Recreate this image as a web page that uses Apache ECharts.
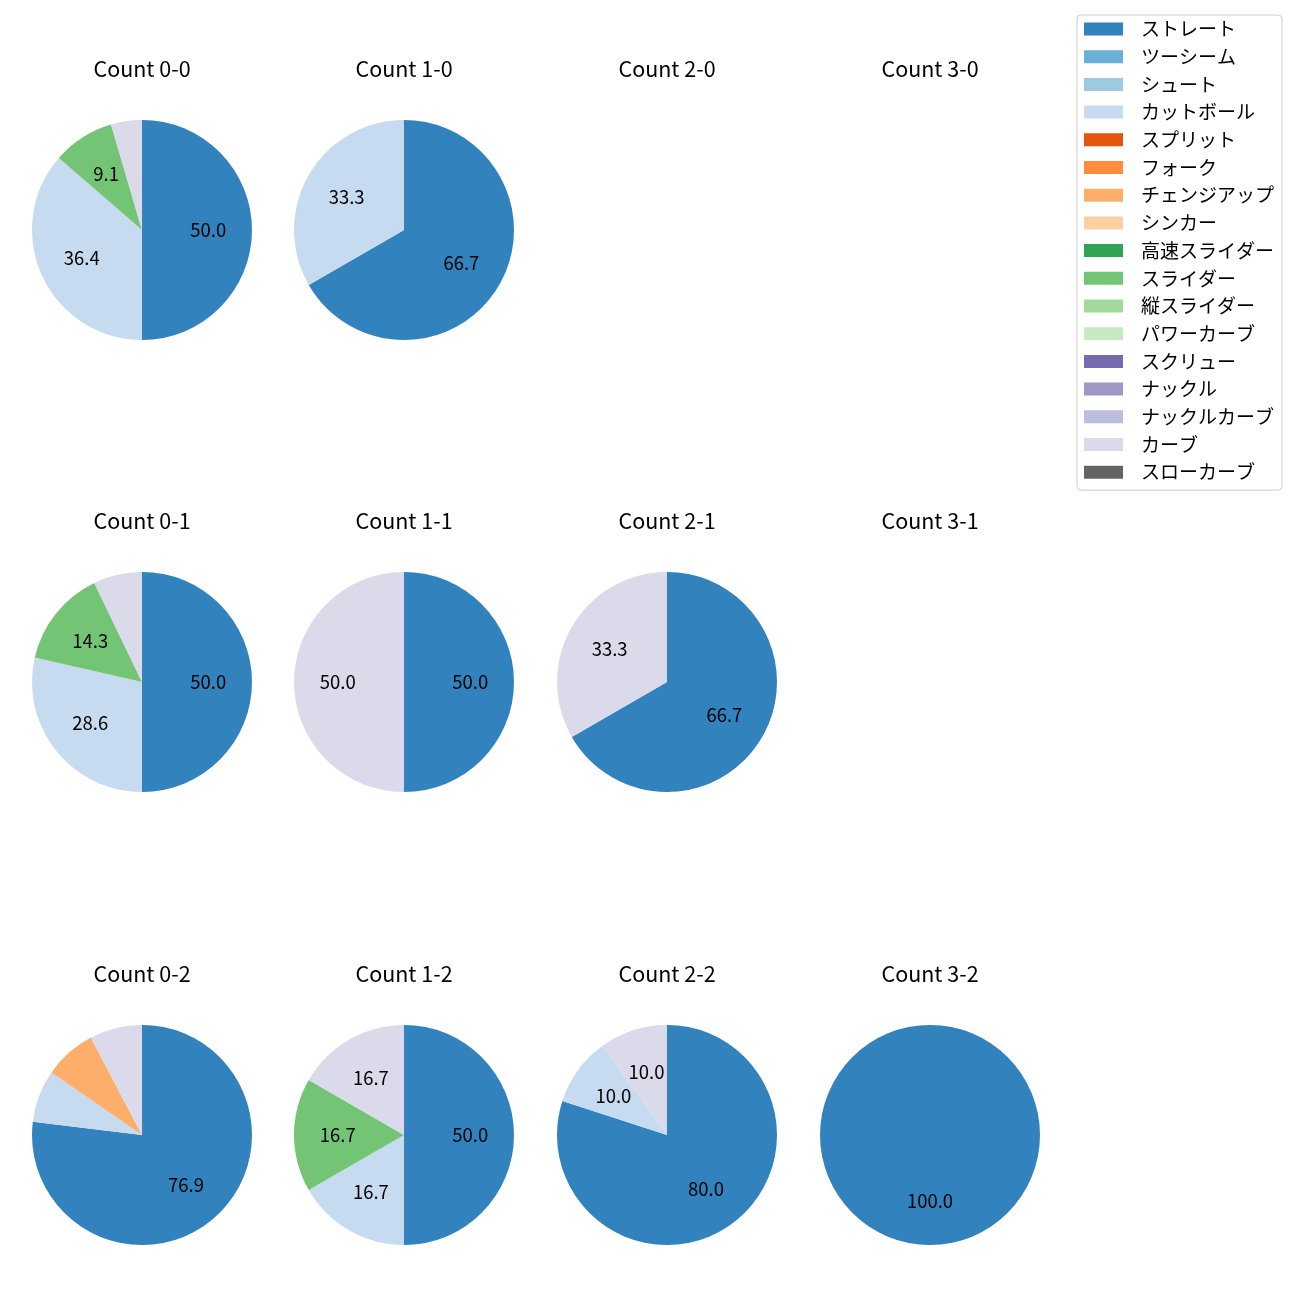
<!DOCTYPE html>
<html>
<head>
<meta charset="utf-8">
<script src="https://cdn.jsdelivr.net/npm/echarts@6/dist/echarts.min.js"></script>
<style>
  html, body { margin: 0; padding: 0; background: #fff; }
  #chart { width: 1300px; height: 1300px; }
</style>
</head>
<body>
<div id="chart"></div>
<script>
// Pitch types (legend order) and their colours
const pitchTypes = ['ストレート','ツーシーム','シュート','カットボール','スプリット','フォーク','チェンジアップ','シンカー','高速スライダー','スライダー','縦スライダー','パワーカーブ','スクリュー','ナックル','ナックルカーブ','カーブ','スローカーブ'];
const pitchColors = ['#3182bd','#6baed6','#9ecae1','#c6dbef','#e6550d','#fd8d3c','#fdae6b','#fdd0a2','#31a354','#74c476','#a1d99b','#c7e9c0','#756bb1','#9e9ac8','#bcbddc','#dadaeb','#636363'];

// Subplot titles (row by row)
const countLabels = ['0-0','1-0','2-0','3-0','0-1','1-1','2-1','3-1','0-2','1-2','2-2','3-2'];

// Pitch counts per ball-strike count, in pitchTypes order
const count00 = [11,0,0,8,0,0,0,0,0,2,0,0,0,0,0,1,0];
const count10 = [2,0,0,1,0,0,0,0,0,0,0,0,0,0,0,0,0];
const count20 = [0,0,0,0,0,0,0,0,0,0,0,0,0,0,0,0,0];
const count30 = [0,0,0,0,0,0,0,0,0,0,0,0,0,0,0,0,0];
const count01 = [7,0,0,4,0,0,0,0,0,2,0,0,0,0,0,1,0];
const count11 = [1,0,0,0,0,0,0,0,0,0,0,0,0,0,0,1,0];
const count21 = [2,0,0,0,0,0,0,0,0,0,0,0,0,0,0,1,0];
const count31 = [0,0,0,0,0,0,0,0,0,0,0,0,0,0,0,0,0];
const count02 = [10,0,0,1,0,0,1,0,0,0,0,0,0,0,0,1,0];
const count12 = [3,0,0,1,0,0,0,0,0,1,0,0,0,0,0,1,0];
const count22 = [8,0,0,1,0,0,0,0,0,0,0,0,0,0,0,1,0];
const count32 = [1,0,0,0,0,0,0,0,0,0,0,0,0,0,0,0,0];

const allCounts = [count00,count10,count20,count30,count01,count11,count21,count31,count02,count12,count22,count32];

// Layout
const colX = [142, 404, 667, 930];
const rowY = [230, 682, 1135];
const R = 110;
const FONT = '"Noto Sans CJK JP", "Noto Sans", sans-serif';

const series = [];
// hidden series carrying all legend entries
series.push({
  type: 'pie', radius: 0, center: [-500, -500], silent: true,
  label: { show: false }, labelLine: { show: false },
  data: pitchTypes.map((n, i) => ({ name: n, value: 1, itemStyle: { color: pitchColors[i] } }))
});

const titles = [];
allCounts.forEach((arr, k) => {
  const r = Math.floor(k / 4), c = k % 4;
  const cx = colX[c], cy = rowY[r];
  titles.push({
    text: 'Count ' + countLabels[k],
    left: cx, top: rowY[r] - 172, textAlign: 'center', padding: 0,
    textStyle: { fontFamily: FONT, fontSize: 21.5, lineHeight: 22, fontWeight: 'normal', color: '#000' }
  });
  const total = arr.reduce((a, b) => a + b, 0);
  if (total === 0) return;
  const items = [];
  arr.forEach((v, i) => { if (v > 0) items.push({ i, v }); });
  series.push({
    type: 'pie', center: [cx, cy], radius: [0, R], startAngle: 90, clockwise: true,
    silent: true, avoidLabelOverlap: false,
    label: { show: false }, labelLine: { show: false },
    itemStyle: { borderWidth: 0 },
    emphasis: { disabled: true },
    data: items.map(d => ({ name: pitchTypes[d.i], value: d.v, itemStyle: { color: pitchColors[d.i], borderWidth: 0 } }))
  });
  // label overlay ring: inside label sits at (r0 + r) / 2
  series.push({
    type: 'pie', center: [cx, cy], radius: [0.15 * R, R], startAngle: 90, clockwise: true,
    silent: true, avoidLabelOverlap: false,
    labelLine: { show: false },
    itemStyle: { color: 'rgba(0,0,0,0)', borderWidth: 0 },
    emphasis: { disabled: true },
    data: items.map(d => {
      const pct = d.v / total * 100;
      return {
        name: pitchTypes[d.i], value: d.v,
        itemStyle: { color: 'rgba(0,0,0,0)', borderWidth: 0 },
        label: {
          show: pct >= 8, position: 'inside',
          formatter: pct.toFixed(1),
          fontFamily: FONT, fontSize: 18.5, color: '#000'
        }
      };
    })
  });
});

const chart = echarts.init(document.getElementById('chart'));
chart.setOption({
  animation: false,
  backgroundColor: '#fff',
  title: titles,
  legend: {
    orient: 'vertical', left: 1077, top: 15,
    padding: [4, 8, 8, 7],
    itemWidth: 39, itemHeight: 13, itemGap: 7.7,
    icon: 'rect', selectedMode: false,
    borderColor: '#ccc', borderWidth: 1, borderRadius: 4, backgroundColor: '#fff',
    textStyle: { fontFamily: FONT, fontSize: 19, lineHeight: 20, color: '#000', padding: [0, 0, 0, 13] },
    data: pitchTypes
  },
  series: series
});
</script>
</body>
</html>
